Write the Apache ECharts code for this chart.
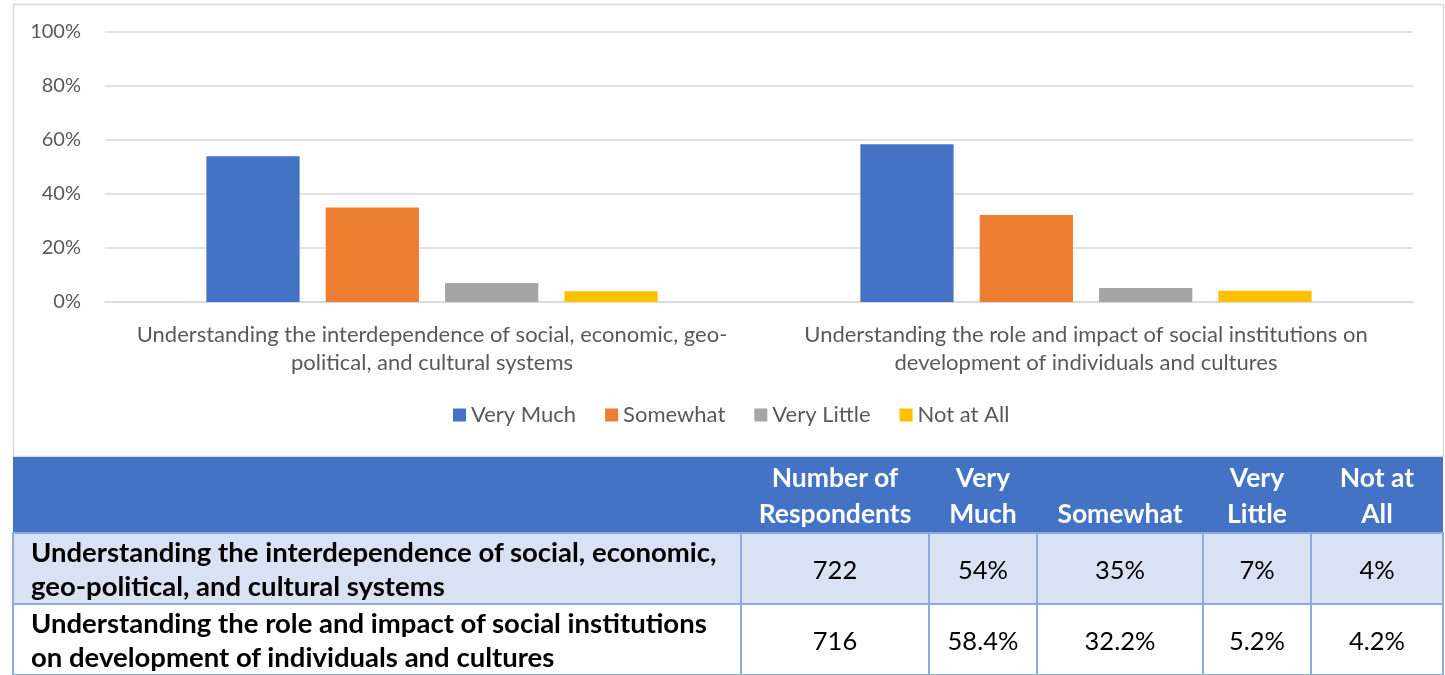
<!DOCTYPE html>
<html>
<head>
<meta charset="utf-8">
<script src="https://cdn.jsdelivr.net/npm/echarts@6/dist/echarts.min.js"></script>
<style>
  html, body { margin: 0; padding: 0; background: #fff; width: 1445px; height: 675px; overflow: hidden; }
  #chart { position: absolute; left: 0; top: 0; width: 1445px; height: 458px; }
  #tbl {
    position: absolute; left: 12px; top: 457px; width: 1430px;
    border-collapse: collapse; table-layout: fixed;
    font-family: Lato, "Open Sans", sans-serif; font-size: 25.5px; color: #000;
  }
  #tbl th { background: #4472C4; color: #fff; font-weight: bold; text-align: center; font-size: 26.5px;
            vertical-align: bottom; line-height: 36px; padding: 0 2px 1px 2px; height: 74px; border: none; }
  #tbl td { border: 2px solid #8EAADB; text-align: center; line-height: 34px; padding: 0 2px; height: 69px; }
  #tbl td.lbl { text-align: left; font-weight: bold; font-size: 27.5px; padding-left: 17px; white-space: nowrap; }
  #tbl tr.odd td { background: #D9E2F3; }
</style>
</head>
<body>
<div id="chart"></div>
<table id="tbl"></table>
<script>
// Survey items (categories) and response shares, in percent
const categories = [
  'Understanding the interdependence of social, economic, geo-political, and cultural systems',
  'Understanding the role and impact of social institutions on development of individuals and cultures'
];
const seriesNames = ['Very Much', 'Somewhat', 'Very Little', 'Not at All'];
const veryMuch   = [54, 58.4];
const somewhat   = [35, 32.2];
const veryLittle = [7, 5.2];
const notAtAll   = [4, 4.2];
const respondents = [722, 716];
// Table cells exactly as written in the summary table
const tableHeaders = ['', 'Number of<br>Respondents', 'Very<br>Much', 'Somewhat', 'Very<br>Little', 'Not at<br>All'];
const tableLabels = [
  'Understanding the interdependence of social, economic,<br>geo-political, and cultural systems',
  'Understanding the role and impact of social institutions<br>on development of individuals and cultures'
];
const tablePercents = [['54%', '35%', '7%', '4%'], ['58.4%', '32.2%', '5.2%', '4.2%']];

const colors = ['#4472C4', '#ED7D31', '#A5A5A5', '#FFC000'];
const values = [veryMuch, somewhat, veryLittle, notAtAll];
const textColor = '#595959';
const font = 'Lato, "Open Sans", sans-serif';

// wrapped axis labels
const wrapped = {};
wrapped[categories[0]] = 'Understanding the interdependence of social, economic, geo-\npolitical, and cultural systems';
wrapped[categories[1]] = 'Understanding the role and impact of social institutions on\ndevelopment of individuals and cultures';

const chart = echarts.init(document.getElementById('chart'), null, { renderer: 'canvas' });
chart.setOption({
  animation: false,
  color: colors,
  textStyle: { fontFamily: font },
  graphic: [{
    type: 'rect', left: 11, top: 2, silent: true,
    shape: { x: 0, y: 0, width: 1430, height: 452 },
    style: { fill: 'none', stroke: '#D9D9D9', lineWidth: 1.5 }
  }],
  grid: { left: 105, right: 32, top: 32, bottom: 156, containLabel: false },
  legend: {
    data: seriesNames, bottom: 27, left: 448,
    itemWidth: 13, itemHeight: 13, itemGap: 29, icon: 'rect',
    textStyle: { color: textColor, fontSize: 22, fontFamily: font }
  },
  xAxis: {
    type: 'category', data: categories,
    axisLine: { show: true, lineStyle: { color: '#D9D9D9', width: 1.5 } },
    axisTick: { show: false },
    axisLabel: {
      color: textColor, fontSize: 22, fontFamily: font, lineHeight: 28, margin: 19, interval: 0,
      formatter: v => wrapped[v]
    }
  },
  yAxis: {
    type: 'value', min: 0, max: 100, interval: 20,
    axisLine: { show: false }, axisTick: { show: false },
    splitLine: { lineStyle: { color: '#D9D9D9', width: 1.5 } },
    axisLabel: { color: textColor, fontSize: 20, fontFamily: font, margin: 24, formatter: '{value}%' }
  },
  series: seriesNames.map((name, i) => ({
    name, type: 'bar', data: values[i],
    barGap: '28%', barCategoryGap: '31%',
    itemStyle: { color: colors[i] }
  }))
});

// summary table
const tbl = document.getElementById('tbl');
const widths = [728, 188, 108, 166, 108, 132];
let html = '<colgroup>' + widths.map(w => `<col style="width:${w}px">`).join('') + '</colgroup>';
html += '<tr>' + tableHeaders.map(h => `<th>${h}</th>`).join('') + '</tr>';
tableLabels.forEach((lbl, r) => {
  html += `<tr class="${r === 0 ? 'odd' : ''}"><td class="lbl">${lbl}</td><td>${respondents[r]}</td>` +
    tablePercents[r].map(p => `<td>${p}</td>`).join('') + '</tr>';
});
tbl.innerHTML = html;
</script>
</body>
</html>
